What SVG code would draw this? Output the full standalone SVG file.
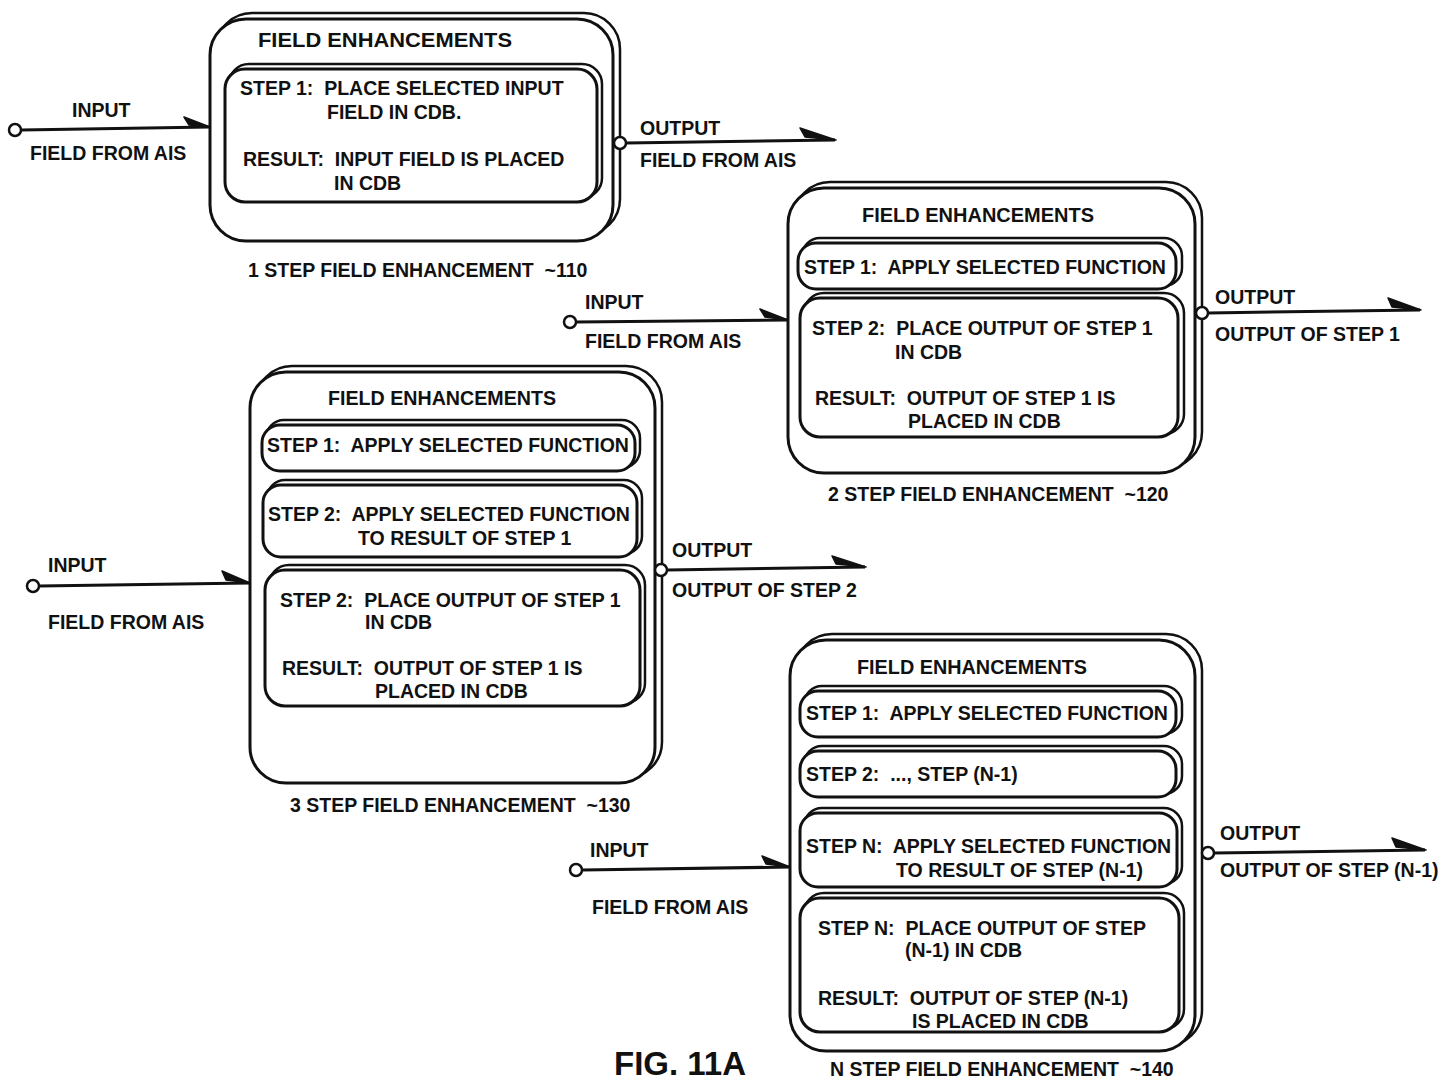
<svg xmlns="http://www.w3.org/2000/svg" width="1454" height="1084" viewBox="0 0 1454 1084" xml:space="preserve">
<style>
text{font-family:"Liberation Sans",Arial,sans-serif;font-weight:bold;font-size:19.5px;fill:#111;white-space:pre}
.big{font-size:33px}
.hd{text-anchor:middle}
.back{fill:#fff;stroke:#111;stroke-width:2.5}
.front{fill:#fff;stroke:#111;stroke-width:3}
.ln{stroke:#111;stroke-width:3;fill:none}
.dot{fill:#fff;stroke:#111;stroke-width:2.5}
.barb{fill:#111;stroke:#111;stroke-width:1.5;stroke-linejoin:round}
</style>
<rect width="1454" height="1084" fill="#fff"/>

<g id="node-110">
<rect class="back" x="216" y="13" width="404" height="222" rx="36"/>
<rect class="front" x="210" y="19" width="403" height="222" rx="36"/>
<text class="hd" x="385" y="47" textLength="254" lengthAdjust="spacingAndGlyphs">FIELD ENHANCEMENTS</text>
<rect class="back" x="229" y="64" width="373" height="134" rx="20"/>
<rect class="front" x="225" y="69" width="372" height="133" rx="20"/>
<text x="240" y="95">STEP 1:  PLACE SELECTED INPUT</text>
<text x="327" y="119">FIELD IN CDB.</text>
<text x="243" y="166">RESULT:  INPUT FIELD IS PLACED</text>
<text x="334" y="190">IN CDB</text>
<text x="248" y="277">1 STEP FIELD ENHANCEMENT  ~110</text>
</g>

<g id="node-120">
<rect class="back" x="794" y="182" width="408" height="286" rx="36"/>
<rect class="front" x="788" y="188" width="407" height="285" rx="36"/>
<text class="hd" x="978" y="222" textLength="232" lengthAdjust="spacingAndGlyphs">FIELD ENHANCEMENTS</text>
<rect class="back" x="802" y="238" width="380" height="48" rx="18"/>
<rect class="front" x="798" y="243" width="378" height="46" rx="18"/>
<text x="804" y="274">STEP 1:  APPLY SELECTED FUNCTION</text>
<rect class="back" x="804" y="293" width="380" height="141" rx="20"/>
<rect class="front" x="800" y="298" width="378" height="139" rx="20"/>
<text x="812" y="335">STEP 2:  PLACE OUTPUT OF STEP 1</text>
<text x="895" y="359">IN CDB</text>
<text x="815" y="405">RESULT:  OUTPUT OF STEP 1 IS</text>
<text x="908" y="428">PLACED IN CDB</text>
<text x="828" y="501">2 STEP FIELD ENHANCEMENT  ~120</text>
</g>

<g id="node-130">
<rect class="back" x="256" y="366" width="406" height="412" rx="36"/>
<rect class="front" x="250" y="372" width="405" height="411" rx="36"/>
<text class="hd" x="442" y="405" textLength="228" lengthAdjust="spacingAndGlyphs">FIELD ENHANCEMENTS</text>
<rect class="back" x="266" y="420" width="374" height="48" rx="18"/>
<rect class="front" x="262" y="425" width="373" height="46" rx="18"/>
<text x="267" y="452">STEP 1:  APPLY SELECTED FUNCTION</text>
<rect class="back" x="267" y="480" width="375" height="74" rx="18"/>
<rect class="front" x="263" y="485" width="374" height="72" rx="18"/>
<text x="268" y="521">STEP 2:  APPLY SELECTED FUNCTION</text>
<text x="358" y="545">TO RESULT OF STEP 1</text>
<rect class="back" x="269" y="565" width="376" height="138" rx="20"/>
<rect class="front" x="265" y="570" width="375" height="136" rx="20"/>
<text x="280" y="607">STEP 2:  PLACE OUTPUT OF STEP 1</text>
<text x="365" y="629">IN CDB</text>
<text x="282" y="675">RESULT:  OUTPUT OF STEP 1 IS</text>
<text x="375" y="698">PLACED IN CDB</text>
<text x="290" y="812">3 STEP FIELD ENHANCEMENT  ~130</text>
</g>

<g id="node-140">
<rect class="back" x="796" y="634" width="406" height="412" rx="36"/>
<rect class="front" x="790" y="640" width="405" height="411" rx="36"/>
<text class="hd" x="972" y="674" textLength="230" lengthAdjust="spacingAndGlyphs">FIELD ENHANCEMENTS</text>
<rect class="back" x="804" y="686" width="378" height="48" rx="18"/>
<rect class="front" x="800" y="691" width="376" height="46" rx="18"/>
<text x="806" y="720">STEP 1:  APPLY SELECTED FUNCTION</text>
<rect class="back" x="804" y="746" width="378" height="48" rx="18"/>
<rect class="front" x="800" y="751" width="376" height="46" rx="18"/>
<text x="806" y="781">STEP 2:  ..., STEP (N-1)</text>
<rect class="back" x="804" y="808" width="378" height="76" rx="18"/>
<rect class="front" x="800" y="813" width="377" height="74" rx="18"/>
<text x="806" y="853">STEP N:  APPLY SELECTED FUNCTION</text>
<text x="896" y="877">TO RESULT OF STEP (N-1)</text>
<rect class="back" x="804" y="893" width="380" height="136" rx="20"/>
<rect class="front" x="800" y="898" width="379" height="134" rx="20"/>
<text x="818" y="935">STEP N:  PLACE OUTPUT OF STEP</text>
<text x="905" y="957">(N-1) IN CDB</text>
<text x="818" y="1005">RESULT:  OUTPUT OF STEP (N-1)</text>
<text x="912" y="1028">IS PLACED IN CDB</text>
<text x="830" y="1076">N STEP FIELD ENHANCEMENT  ~140</text>
</g>

<g id="connectors">
<path class="ln" d="M21 130 L210 127"/>
<circle class="dot" cx="15" cy="130" r="6"/>
<path class="barb" d="M184 117 L210 127 L189 125 Z"/>
<path class="ln" d="M626 143 L835 140"/>
<circle class="dot" cx="620" cy="143" r="6"/>
<path class="barb" d="M800 128 L836 140 L805 137 Z"/>

<path class="ln" d="M576 322 L788 320"/>
<circle class="dot" cx="570" cy="322" r="6"/>
<path class="barb" d="M760 309 L788 320 L765 317 Z"/>
<path class="ln" d="M1208 313 L1420 310"/>
<circle class="dot" cx="1202" cy="313" r="6"/>
<path class="barb" d="M1388 298 L1421 310 L1392 307 Z"/>

<path class="ln" d="M39 586 L250 583"/>
<circle class="dot" cx="33" cy="586" r="6"/>
<path class="barb" d="M222 571 L250 583 L226 580 Z"/>
<path class="ln" d="M667 570 L865 567"/>
<circle class="dot" cx="661" cy="570" r="6"/>
<path class="barb" d="M832 556 L866 567 L836 564 Z"/>

<path class="ln" d="M582 870 L790 867"/>
<circle class="dot" cx="576" cy="870" r="6"/>
<path class="barb" d="M762 856 L790 867 L766 864 Z"/>
<path class="ln" d="M1214 853 L1425 850"/>
<circle class="dot" cx="1208" cy="853" r="6"/>
<path class="barb" d="M1392 838 L1426 850 L1396 847 Z"/>
</g>

<g id="labels">
<text x="72" y="117">INPUT</text>
<text x="30" y="160">FIELD FROM AIS</text>
<text x="640" y="135">OUTPUT</text>
<text x="640" y="167">FIELD FROM AIS</text>
<text x="585" y="309">INPUT</text>
<text x="585" y="348">FIELD FROM AIS</text>
<text x="1215" y="304">OUTPUT</text>
<text x="1215" y="341">OUTPUT OF STEP 1</text>
<text x="48" y="572">INPUT</text>
<text x="48" y="629">FIELD FROM AIS</text>
<text x="672" y="557">OUTPUT</text>
<text x="672" y="597">OUTPUT OF STEP 2</text>
<text x="590" y="857">INPUT</text>
<text x="592" y="914">FIELD FROM AIS</text>
<text x="1220" y="840">OUTPUT</text>
<text x="1220" y="877">OUTPUT OF STEP (N-1)</text>
<text class="big" x="614" y="1075">FIG. 11A</text>
</g>
</svg>
